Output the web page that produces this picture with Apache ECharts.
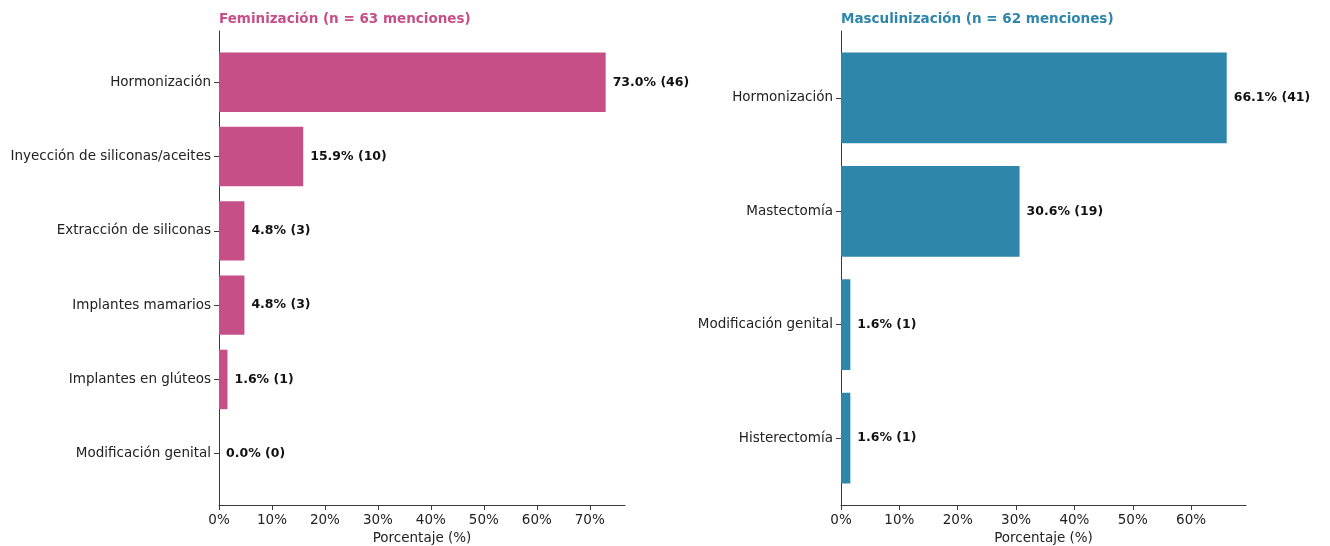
<!DOCTYPE html>
<html><head><meta charset="utf-8">
<script src="https://cdn.jsdelivr.net/npm/echarts@6/dist/echarts.min.js"></script>
<style>html,body{margin:0;padding:0;background:#fff}#c{width:1330px;height:546px}</style>
</head><body><div id="c"></div>
<script>
const femTitle = 'Feminización (n = 63 menciones)';
const femCategories = ['Hormonización','Inyección de siliconas/aceites','Extracción de siliconas','Implantes mamarios','Implantes en glúteos','Modificación genital'];
const femPct = [73.0, 15.9, 4.8, 4.8, 1.6, 0.0];
const femCount = [46, 10, 3, 3, 1, 0];

const masTitle = 'Masculinización (n = 62 menciones)';
const masCategories = ['Hormonización','Mastectomía','Modificación genital','Histerectomía'];
const masPct = [66.1, 30.6, 1.6, 1.6];
const masCount = [41, 19, 1, 1];

const xTicks = [0,10,20,30,40,50,60,70];
const xName = 'Porcentaje (%)';

const FONT = 'DejaVu Sans';
const AX = '#3a3a3a';
const panels = [
  {title: femTitle, cats: femCategories, pct: femPct, cnt: femCount, color: '#C64F88', left: 219, width: 406},
  {title: masTitle, cats: masCategories, pct: masPct, cnt: masCount, color: '#2E86AB', left: 841, width: 405}
];
const TOP = 31, H = 474;
const grid = [], xAxis = [], yAxis = [], series = [], title = [];
panels.forEach((p, i) => {
  const n = p.cats.length;
  const span = (n - 0.2) * 1.1;
  const insetU = 0.05 * (n - 0.2) - 0.1;
  const inset = insetU / span * H;
  const xmax = Math.max(...p.pct) * 1.05;
  grid.push({left: p.left, width: p.width, top: TOP, height: H, outerBoundsMode: 'none', containLabel: false});
  grid.push({left: p.left, width: p.width, top: TOP + inset, height: H - 2 * inset, outerBoundsMode: 'none', containLabel: false});
  const g0 = 2 * i, g1 = 2 * i + 1;
  xAxis.push({type: 'value', gridIndex: g0, min: 0, max: xmax, interval: 10,
    axisLine: {show: true, lineStyle: {color: AX, width: 1}},
    axisTick: {show: true, length: 5, lineStyle: {color: AX}},
    splitLine: {show: false},
    axisLabel: {formatter: v => xTicks.includes(v) ? v + '%' : '', showMaxLabel: false, color: '#222', fontFamily: FONT, fontSize: 13.5, margin: 8},
    name: xName, nameLocation: 'middle', nameGap: 25,
    nameTextStyle: {color: '#222', fontFamily: FONT, fontSize: 13.5}});
  xAxis.push({type: 'value', gridIndex: g1, min: 0, max: xmax, show: false});
  yAxis.push({type: 'value', gridIndex: g0, min: 0, max: 1,
    axisLine: {show: true, lineStyle: {color: AX, width: 1}},
    axisTick: {show: false}, axisLabel: {show: false}, splitLine: {show: false}});
  yAxis.push({type: 'category', gridIndex: g1, data: p.cats, inverse: true,
    axisLine: {show: false},
    axisTick: {show: true, alignWithLabel: true, length: 5, lineStyle: {color: AX}},
    axisLabel: {color: '#222', fontFamily: FONT, fontSize: 13.5, margin: 8},
    splitLine: {show: false}});
  series.push({type: 'bar', xAxisIndex: 2 * i + 1, yAxisIndex: 2 * i + 1,
    data: p.pct, barCategoryGap: '20%', itemStyle: {color: p.color},
    label: {show: true, position: 'right', distance: 7,
      formatter: d => p.pct[d.dataIndex].toFixed(1) + '% (' + p.cnt[d.dataIndex] + ')',
      color: '#111', fontFamily: FONT, fontSize: 12.5, fontWeight: 'bold'}});
  title.push({text: p.title, left: p.left - 5, top: 7,
    textStyle: {color: p.color, fontFamily: FONT, fontSize: 13.5, fontWeight: 'bold'}});
});
const chart = echarts.init(document.getElementById('c'), null, {renderer: 'canvas'});
chart.setOption({animation: false, backgroundColor: '#fff', title, grid, xAxis, yAxis, series});
</script></body></html>
